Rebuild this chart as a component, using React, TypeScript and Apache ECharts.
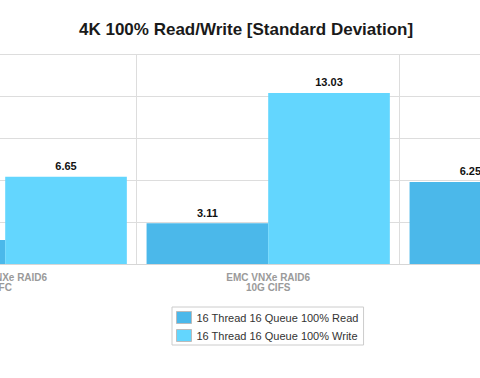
import React, { useEffect, useRef } from "react";
import * as echarts from "echarts";

const titleText = "4K 100% Read/Write [Standard Deviation]";
const categories = ["EMC VNXe RAID6\nFC", "EMC VNXe RAID6\n10G CIFS", ""];
const seriesNames = ["16 Thread 16 Queue 100% Read", "16 Thread 16 Queue 100% Write"];
const readValues = [1.83, 3.11, 6.25];
const writeValues: (number | null)[] = [6.65, 13.03, null];
const yTicks = { min: 0, max: 16, interval: 3.2 };

const READ_COLOR = "#4BB8EA";
const WRITE_COLOR = "#63D6FE";

// The visible picture is a window onto a wider chart.
const OFFSET_X = 140;
const INNER_W = 830;

export default function App() {
  const ref = useRef<HTMLDivElement>(null);
  useEffect(() => {
    if (!ref.current) return;
    const chart = echarts.init(ref.current, undefined, { renderer: "svg" });
    const labelStyle = {
      show: true,
      position: "top" as const,
      distance: 5,
      color: "#111",
      fontSize: 11,
      fontWeight: "bold" as const,
      fontFamily: "Liberation Sans, Arial, sans-serif",
      formatter: (p: any) => Number(p.value).toFixed(2),
    };
    chart.setOption({
      animation: false,
      backgroundColor: "#ffffff",
      title: {
        text: titleText,
        left: 79 + OFFSET_X,
        top: 21,
        padding: 0,
        textStyle: {
          fontSize: 17,
          fontWeight: "bold",
          color: "#1a1a1a",
          fontFamily: "Liberation Sans, Arial, sans-serif",
        },
      },
      legend: {
        orient: "vertical",
        left: 172 + OFFSET_X,
        top: 307,
        padding: [4, 5, 3, 4],
        itemGap: 5,
        itemWidth: 15,
        itemHeight: 12,
        borderColor: "#cccccc",
        borderWidth: 1,
        icon: "rect",
        itemStyle: { borderColor: "#bbbbbb", borderWidth: 1 },
        textStyle: {
          fontSize: 11,
          color: "#333",
          fontFamily: "Liberation Sans, Arial, sans-serif",
        },
        data: seriesNames,
      },
      grid: {
        left: -126.3 + OFFSET_X,
        width: 789,
        top: 54,
        bottom: 114,
        containLabel: false,
      },
      xAxis: {
        type: "category",
        data: categories,
        axisLine: { show: true, lineStyle: { color: "#d6d6d6", width: 1 } },
        axisTick: { show: false },
        splitLine: { show: true, lineStyle: { color: "#dddddd", width: 1 } },
        axisLabel: {
          color: "#9a9a9a",
          fontSize: 10,
          lineHeight: 10,
          fontWeight: "bold",
          margin: 8,
          fontFamily: "Liberation Sans, Arial, sans-serif",
          interval: 0,
          hideOverlap: false,
        },
      },
      yAxis: {
        type: "value",
        min: yTicks.min,
        max: yTicks.max,
        interval: yTicks.interval,
        axisLine: { show: false },
        axisTick: { show: false },
        axisLabel: { show: false },
        splitLine: { show: true, lineStyle: { color: "#dddddd", width: 1 } },
      },
      series: [
        {
          name: seriesNames[0],
          type: "bar",
          data: readValues,
          barGap: "0%",
          barCategoryGap: "7.5%",
          itemStyle: { color: READ_COLOR },
          label: labelStyle,
        },
        {
          name: seriesNames[1],
          type: "bar",
          data: writeValues,
          barGap: "0%",
          barCategoryGap: "7.5%",
          itemStyle: { color: WRITE_COLOR },
          label: labelStyle,
        },
      ],
    });
    return () => chart.dispose();
  }, []);
  return (
    <div
      style={{
        position: "fixed",
        left: 0,
        top: 0,
        width: 480,
        height: 378,
        overflow: "hidden",
        background: "#ffffff",
      }}
    >
      <div
        ref={ref}
        style={{ position: "absolute", left: -OFFSET_X, top: 0, width: INNER_W, height: 378 }}
      />
    </div>
  );
}
